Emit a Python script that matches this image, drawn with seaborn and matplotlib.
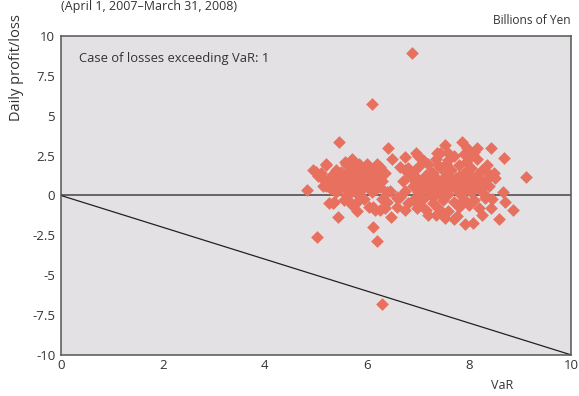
import numpy as np
import pandas as pd
import matplotlib
matplotlib.use('Agg')
import matplotlib.pyplot as plt
import seaborn as sns

# Daily VaR (x) and daily profit/loss (y), billions of yen
var_vals = [
    # left cluster
    4.82, 4.94, 5.0, 5.05, 5.1, 5.15, 5.2, 5.2, 5.2, 5.25, 5.3, 5.3, 5.33, 5.35, 5.35, 5.4,
    5.4, 5.43, 5.45, 5.5, 5.5, 5.55, 5.55, 5.57, 5.6, 5.6, 5.6, 5.63, 5.65, 5.65, 5.7, 5.7,
    5.7, 5.75, 5.75, 5.8, 5.8, 5.8, 5.8, 5.85, 5.85, 5.9, 5.9, 5.95, 5.95, 6.0, 6.0, 6.05,
    6.05, 6.1, 6.1, 6.12, 6.15, 6.15, 6.2, 6.2, 6.24, 6.25, 6.25, 6.25, 6.29, 6.3, 6.3, 6.35,
    6.35, 6.39, 6.39, 6.41, 6.45, 6.47, 6.49, 5.25, 5.35, 5.45, 5.55, 5.65, 5.75, 5.85, 5.95,
    6.05, 5.5, 5.68, 5.88, 6.08, 5.15, 5.38, 5.78, 5.98, 6.18,
    # right cluster
    6.59, 6.6, 6.6, 6.65, 6.65, 6.7, 6.75, 6.75, 6.75, 6.75, 6.8, 6.8, 6.85, 6.9, 6.9, 6.95,
    6.95, 6.96, 6.98, 6.98, 7.0, 7.0, 7.0, 7.0, 7.05, 7.05, 7.1, 7.1, 7.1, 7.1, 7.15, 7.15,
    7.2, 7.2, 7.2, 7.2, 7.25, 7.25, 7.3, 7.3, 7.3, 7.3, 7.35, 7.35, 7.35, 7.37, 7.4, 7.4,
    7.4, 7.4, 7.43, 7.45, 7.45, 7.5, 7.5, 7.5, 7.5, 7.53, 7.53, 7.55, 7.55, 7.6, 7.6, 7.6,
    7.6, 7.6, 7.6, 7.65, 7.65, 7.7, 7.7, 7.7, 7.7, 7.75, 7.75, 7.76, 7.8, 7.8, 7.8, 7.85,
    7.85, 7.85, 7.86, 7.9, 7.9, 7.9, 7.9, 7.92, 7.95, 7.95, 7.96, 8.0, 8.0, 8.0, 8.02, 8.05,
    8.05, 8.08, 8.1, 8.1, 8.1, 8.15, 8.15, 8.16, 8.2, 8.2, 8.25, 8.25, 8.25, 8.25, 8.3, 8.31,
    8.35, 8.35, 8.37, 8.4, 8.43, 8.43, 8.45, 8.5, 8.51, 8.59, 8.67, 8.69, 8.7, 8.87, 9.12,
    7.05, 7.25, 7.45, 7.65, 7.85, 8.05, 7.15, 7.35, 7.55, 7.75, 7.95, 8.15,
    # outliers
    6.88, 6.1, 5.02, 6.12, 6.2, 6.29,
]
pl_vals = [
    # left cluster
    0.35, 1.6, 1.5, 1.2, 1.4, 1.0, 1.9, 2.0, 0.6, -0.47, 0.4, 1.2, -0.47, 0.8, -0.4, 1.6,
    0.2, -1.35, 3.36, 1.0, 0.5, 1.3, -0.3, 2.1, 0.0, 0.8, 2.0, -0.3, 1.5, 0.3, 1.1, -0.6,
    2.3, 0.6, 1.8, 0.1, 1.3, -1.0, -0.4, 0.9, 2.0, 0.4, 1.6, -0.2, 1.0, 0.6, 2.0, 1.3,
    -0.7, 0.2, 1.6, -0.7, -0.9, 0.8, 1.2, 2.0, 1.15, 0.5, 1.8, -0.9, 1.4, -0.2, 0.9, 1.4,
    -0.8, 0.2, -0.4, 3.0, 0.3, -1.35, 2.3, 0.9, 1.1, 0.6, 0.7, 1.0, 0.4, 1.2, 0.5,
    0.8, 1.5, 0.2, 0.7, 1.1, 0.6, 1.3, 1.0, 1.4, 0.4,
    # right cluster
    -0.15, -0.1, -0.7, 1.8, -0.1, 0.9, 2.4, 1.6, -0.9, 0.3, -0.5, 1.7, 1.2, 0.6, -0.3, 1.6,
    0.9, 2.66, -0.8, -0.5, 0.2, 1.0, 2.5, -0.1, -0.6, 1.9, 0.5, -0.2, 2.2, 0.9, 1.3, -0.9,
    0.8, 2.0, -1.2, 0.3, 0.0, 1.5, -0.5, 0.6, 1.4, -0.1, 1.1, 2.3, -1.2, 2.65, 0.3, -0.8,
    1.9, 0.7, 2.65, 1.7, 0.9, -0.3, 0.5, -1.1, 1.0, 3.15, -1.4, 1.3, 2.0, 0.1, -1.0, 2.65,
    2.2, 1.2, 0.4, 0.8, 1.6, -0.4, 2.5, -1.5, 0.6, 0.4, 1.1, -1.3, -0.7, 1.9, 1.2, 0.7,
    0.0, -0.5, 3.37, 1.4, -0.2, 2.6, 0.9, -1.8, 2.1, 0.5, 3.0, 1.0, -0.6, 0.4, 2.4, 0.2,
    1.7, -1.7, 0.8, -0.3, 2.7, 1.3, 2.3, 2.95, 0.4, -0.8, 0.9, 0.5, 1.6, -1.2, 0.1, -0.15,
    1.9, 1.0, 1.4, 0.6, 2.97, -0.8, -0.2, 1.4, 1.1, -1.5, 0.2, 2.35, -0.4, -0.9, 1.16,
    0.4, 0.7, 0.1, 1.0, 0.3, 1.2, 1.1, 0.2, 0.7, 0.9, 1.5, 0.6,
    # outliers
    8.95, 5.75, -2.6, -1.95, -2.85, -6.8,
]

df = pd.DataFrame({'VaR': var_vals, 'pl': pl_vals})
var_line = np.array([0, 10])

sns.set_style('white')
plt.rcParams['font.family'] = ['Open Sans', 'DejaVu Sans']

fig = plt.figure(figsize=(5.79, 3.96), dpi=100)
ax = fig.add_axes([0.105, 0.104, 0.881, 0.805])
ax.set_facecolor('#E3E1E4')

ax.axhline(0, color='#444444', lw=1.1, zorder=1)
ax.plot(var_line, -var_line, color='#222222', lw=0.9, zorder=1)
sns.scatterplot(data=df, x='VaR', y='pl', marker='D', s=42, color='#E8705F',
                linewidth=0, ax=ax, zorder=3)

ax.set_xlim(0, 10)
ax.set_ylim(-10, 10)
ax.set_xticks([0, 2, 4, 6, 8, 10])
ax.set_yticks([10, 7.5, 5, 2.5, 0, -2.5, -5, -7.5, -10])
ax.set_yticklabels(['10', '7.5', '5', '2.5', '0', '-2.5', '-5', '-7.5', '-10'])
ax.tick_params(axis='x', direction='in', length=5, width=1, color='#555555',
               labelsize=9.5, labelcolor='#333333', pad=3)
ax.tick_params(axis='y', length=0, labelsize=9.5, labelcolor='#333333', pad=4)
ax.set_xlabel('')
ax.set_ylabel('')
for sp in ax.spines.values():
    sp.set_color('#555555')
    sp.set_linewidth(1.1)

ax.text(0.035, 0.93, 'Case of losses exceeding VaR: 1', transform=ax.transAxes,
        fontsize=9.4, color='#333333', va='center')
fig.text(0.105, 0.999, '(April 1, 2007\u2013March 31, 2008)', fontsize=9,
         color='#333333', va='top', ha='left')
fig.text(0.986, 0.948, 'Billions of Yen', fontsize=8.6, color='#333333',
         ha='right', va='center')
fig.text(0.028, 0.83, 'Daily profit/loss', fontsize=10.5, color='#333333',
         rotation=90, ha='center', va='center')
fig.text(0.868, 0.027, 'VaR', fontsize=9, color='#333333', ha='center', va='center')

fig.savefig('out.png', dpi=100)
